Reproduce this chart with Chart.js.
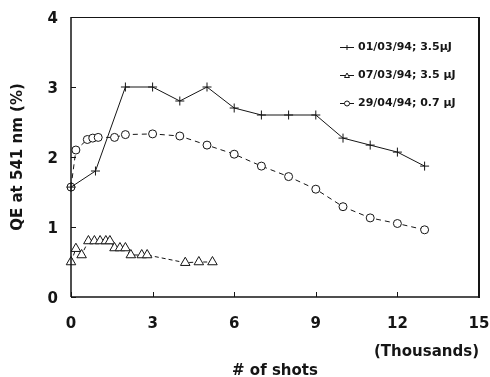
<!DOCTYPE html>
<html>
<head>
<meta charset="utf-8">
<script src="https://cdn.jsdelivr.net/npm/chart.js"></script>
<style>
  html, body { margin: 0; padding: 0; background: #fff; }
  #wrap { width: 490px; height: 377px; position: relative; }
</style>
</head>
<body>
<div id="wrap"><canvas id="qe"></canvas></div>
<script>
/* ═══════════════════════════════════════════
   DATA  (shots in thousands, QE in %)
═══════════════════════════════════════════ */
const labels = ['01/03/94; 3.5\u00b5J', '07/03/94; 3.5 \u00b5J', '29/04/94; 0.7 \u00b5J'];

const shotsA = [0, 0.9, 2, 3, 4, 5, 6, 7, 8, 9, 10, 11, 12, 13];
const qeA    = [1.57, 1.8, 3.0, 3.0, 2.8, 3.0, 2.7, 2.6, 2.6, 2.6, 2.27, 2.17, 2.07, 1.87];

const shotsB = [0, 0.18, 0.39, 0.64, 0.86, 1.07, 1.28, 1.43, 1.6, 1.8, 2.0, 2.2, 2.6, 2.8, 4.2, 4.7, 5.2];
const qeB    = [0.5, 0.69, 0.6, 0.8, 0.8, 0.8, 0.8, 0.8, 0.7, 0.7, 0.7, 0.6, 0.6, 0.6, 0.49, 0.5, 0.5];

const shotsC = [0, 0.18, 0.6, 0.8, 1.0, 1.6, 2.0, 3, 4, 5, 6, 7, 8, 9, 10, 11, 12, 13];
const qeC    = [1.57, 2.1, 2.25, 2.27, 2.28, 2.28, 2.32, 2.33, 2.3, 2.17, 2.04, 1.87, 1.72, 1.54, 1.29, 1.13, 1.05, 0.96];

const xTicks = [0, 3, 6, 9, 12, 15];
const yTicks = [0, 1, 2, 3, 4];

const INK = '#151515';
const FONT = 'DejaVu Sans';

const pts = (xs, ys) => xs.map((x, k) => ({ x, y: ys[k] }));

/* ═══════════════════════════════════════════
   PLUGINS
═══════════════════════════════════════════ */
// box round the plot with short inward ticks
const frame = {
  id: 'frame',
  afterDatasetsDraw(chart) {
    const { ctx, chartArea: a, scales: { x, y } } = chart;
    ctx.save();
    ctx.strokeStyle = INK;
    ctx.lineWidth = 1;
    ctx.beginPath(); ctx.moveTo(a.left, a.top + 0.5); ctx.lineTo(a.right, a.top + 0.5); ctx.stroke();
    ctx.lineWidth = 1.5;
    ctx.beginPath(); ctx.moveTo(a.left, a.top); ctx.lineTo(a.left, a.bottom); ctx.stroke();
    ctx.beginPath(); ctx.moveTo(a.left, a.bottom); ctx.lineTo(a.right, a.bottom); ctx.stroke();
    ctx.lineWidth = 2;
    ctx.beginPath(); ctx.moveTo(a.right, a.top); ctx.lineTo(a.right, a.bottom + 1); ctx.stroke();
    ctx.lineWidth = 1;
    yTicks.forEach(v => {
      const py = Math.round(y.getPixelForValue(v)) + 0.5;
      ctx.beginPath(); ctx.moveTo(a.left, py); ctx.lineTo(a.left + 5, py); ctx.stroke();
    });
    xTicks.forEach(v => {
      const px = Math.round(x.getPixelForValue(v)) + 0.5;
      ctx.beginPath(); ctx.moveTo(px, a.bottom); ctx.lineTo(px, a.bottom - 5); ctx.stroke();
    });
    ctx.restore();
  }
};

function marker(ctx, style, cx, cy, r) {
  ctx.beginPath();
  if (style === 'cross') {
    ctx.moveTo(cx - r, cy); ctx.lineTo(cx + r, cy);
    ctx.moveTo(cx, cy - r); ctx.lineTo(cx, cy + r);
    ctx.stroke();
    return;
  }
  if (style === 'triangle') {
    ctx.moveTo(cx, cy - r); ctx.lineTo(cx + r, cy + r * 0.8); ctx.lineTo(cx - r, cy + r * 0.8); ctx.closePath();
  } else {
    ctx.arc(cx, cy, r, 0, Math.PI * 2);
  }
  ctx.fill(); ctx.stroke();
}

// legend in the upper right corner + the "(Thousands)" note
const notes = {
  id: 'notes',
  afterDraw(chart) {
    const { ctx, chartArea: a } = chart;
    ctx.save();
    ctx.fillStyle = INK;
    ctx.strokeStyle = INK;
    ctx.lineWidth = 1;
    ctx.textBaseline = 'middle';
    ctx.font = `bold 11px ${FONT}`;
    chart.data.datasets.forEach((ds, i) => {
      const ly = a.top + 30 + i * 28;
      const lx = a.right - 139;
      ctx.beginPath(); ctx.moveTo(lx, ly + 0.5); ctx.lineTo(lx + 14, ly + 0.5); ctx.stroke();
      ctx.fillStyle = '#fff';
      marker(ctx, ds.pointStyle, lx + 7, ly + 0.5, 2.5);
      ctx.fillStyle = INK;
      ctx.textAlign = 'left';
      ctx.fillText(ds.label, lx + 18, ly);
    });
    ctx.font = `bold 15px ${FONT}`;
    ctx.textAlign = 'right';
    ctx.fillText('(Thousands)', a.right, a.bottom + 55);
    ctx.restore();
  }
};

/* ═══════════════════════════════════════════
   CHART
═══════════════════════════════════════════ */
const common = {
  borderColor: INK,
  borderWidth: 1,
  pointBorderColor: INK,
  pointBackgroundColor: '#fff',
  pointBorderWidth: 1,
  showLine: true,
  fill: false,
  tension: 0,
  clip: false
};

new Chart(document.getElementById('qe'), {
  type: 'scatter',
  data: {
    datasets: [
      { ...common, label: labels[0], data: pts(shotsA, qeA), pointStyle: 'cross', pointRadius: 4.5 },
      { ...common, label: labels[1], data: pts(shotsB, qeB), pointStyle: 'triangle', pointRadius: 5.5, borderDash: [4, 3] },
      { ...common, label: labels[2], data: pts(shotsC, qeC), pointStyle: 'circle', pointRadius: 4, borderDash: [5, 4] }
    ]
  },
  options: {
    responsive: true,
    maintainAspectRatio: false,
    animation: false,
    layout: { padding: { top: 17, right: 11, left: 0, bottom: 0 } },
    plugins: { legend: { display: false }, tooltip: { enabled: false } },
    scales: {
      x: {
        type: 'linear', min: 0, max: 15,
        afterBuildTicks: s => { s.ticks = xTicks.map(v => ({ value: v })); },
        afterFit: s => { s.height = 80; s.paddingLeft = 0; s.paddingRight = 0; },
        grid: { display: false, drawTicks: false },
        border: { display: false },
        ticks: { color: INK, padding: 18, font: { family: FONT, size: 15, weight: 'bold' } },
        title: {
          display: true, text: '# of shots', color: INK,
          font: { family: FONT, size: 15, weight: 'bold', lineHeight: 1 },
          padding: { top: 0, bottom: -2 }
        }
      },
      y: {
        type: 'linear', min: 0, max: 4,
        afterBuildTicks: s => { s.ticks = yTicks.map(v => ({ value: v })); },
        afterFit: s => { s.width = 71; s.paddingTop = 0; s.paddingBottom = 0; },
        grid: { display: false, drawTicks: false },
        border: { display: false },
        ticks: { color: INK, padding: 13, labelOffset: 2, font: { family: FONT, size: 15, weight: 'bold' } },
        title: {
          display: true, text: 'QE at 541 nm (%)', color: INK,
          font: { family: FONT, size: 15, weight: 'bold' },
          padding: { top: 9, bottom: 0 }
        }
      }
    }
  },
  plugins: [frame, notes]
});
</script>
</body>
</html>
